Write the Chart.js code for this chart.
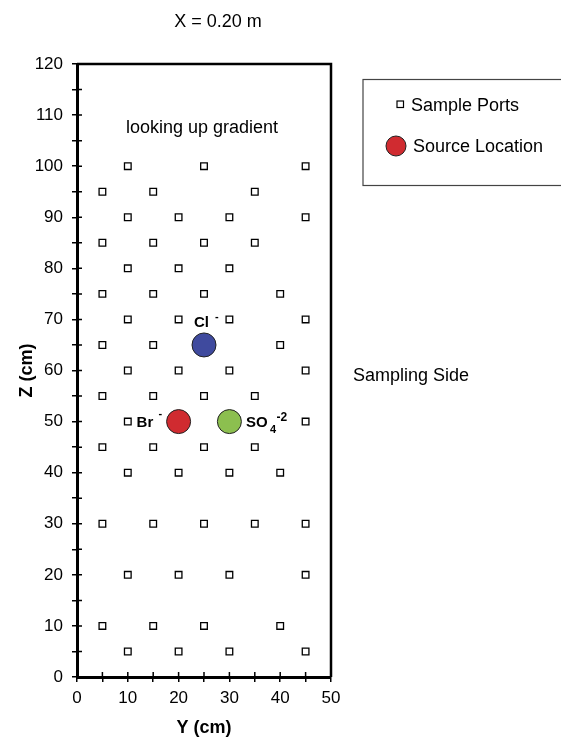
<!DOCTYPE html>
<html>
<head>
<meta charset="utf-8">
<script src="https://cdn.jsdelivr.net/npm/chart.js@4.4.0/dist/chart.umd.min.js"></script>
<style>
  html, body { margin: 0; padding: 0; background: #fff; }
  #wrap { width: 561px; height: 739px; }
</style>
</head>
<body>
<div id="wrap"><canvas id="c" width="561" height="739"></canvas></div>
<script>
// ---- Data ----
const chartTitle = "X = 0.20 m";
const xAxisTitle = "Y (cm)";
const yAxisTitle = "Z (cm)";
const xTickValues = [0, 10, 20, 30, 40, 50];
const yTickValues = [0, 10, 20, 30, 40, 50, 60, 70, 80, 90, 100, 110, 120];

// Sample ports (Y, Z) in cm
const portY = [
  10, 25, 45,
  5, 15, 35,
  10, 20, 30, 45,
  5, 15, 25, 35,
  10, 20, 30,
  5, 15, 25, 40,
  10, 20, 30, 45,
  5, 15, 40,
  10, 20, 30, 45,
  5, 15, 25, 35,
  10, 45,
  5, 15, 25, 35,
  10, 20, 30, 40,
  5, 15, 25, 35, 45,
  10, 20, 30, 45,
  5, 15, 25, 40,
  10, 20, 30, 45
];
const portZ = [
  100, 100, 100,
  95, 95, 95,
  90, 90, 90, 90,
  85, 85, 85, 85,
  80, 80, 80,
  75, 75, 75, 75,
  70, 70, 70, 70,
  65, 65, 65,
  60, 60, 60, 60,
  55, 55, 55, 55,
  50, 50,
  45, 45, 45, 45,
  40, 40, 40, 40,
  30, 30, 30, 30, 30,
  20, 20, 20, 20,
  10, 10, 10, 10,
  5, 5, 5, 5
];

// Source locations
const sourceNames = ["Cl", "Br", "SO4"];
const sourceY = [25, 20, 30];
const sourceZ = [65, 50, 50];

const legendLabels = ["Sample Ports", "Source Location"];
const annotationTexts = ["looking up gradient", "Sampling Side"];

// ---- Styles ----
const FONT = "'Liberation Sans', Arial, Helvetica, sans-serif";
const sourceColors = ["#3F4A9E", "#D02B30", "#8CBF4F"];

const portData = portY.map((y, i) => ({ x: y, y: portZ[i] }));
const sourceData = sourceY.map((y, i) => ({ x: y, y: sourceZ[i] }));

const decorPlugin = {
  id: 'decor',
  afterDraw(chart) {
    const ctx = chart.ctx;
    const xs = chart.scales.x, ys = chart.scales.y;
    const a = chart.chartArea;
    ctx.save();
    // top & right border
    ctx.strokeStyle = '#000';
    ctx.lineWidth = 2.5;
    ctx.beginPath();
    ctx.moveTo(a.left, a.top);
    ctx.lineTo(a.right, a.top);
    ctx.lineTo(a.right, a.bottom);
    ctx.stroke();
    // inner half of tick marks
    ctx.lineWidth = 1.5;
    ctx.beginPath();
    for (let v = 5; v < 50; v += 5) {
      const px = xs.getPixelForValue(v);
      ctx.moveTo(px, a.bottom);
      ctx.lineTo(px, a.bottom - 5);
    }
    for (let v = 5; v < 120; v += 5) {
      const py = ys.getPixelForValue(v);
      ctx.moveTo(a.left, py);
      ctx.lineTo(a.left + 5, py);
    }
    ctx.stroke();

    ctx.fillStyle = '#000';
    // title
    ctx.font = `18px ${FONT}`;
    ctx.textAlign = 'center';
    ctx.textBaseline = 'alphabetic';
    ctx.fillText(chartTitle, 218, 27);

    // annotations
    ctx.textAlign = 'left';
    ctx.font = `18px ${FONT}`;
    ctx.fillText(annotationTexts[0], 126, 133);
    ctx.fillText(annotationTexts[1], 353, 381);

    // ion labels
    const bold = (s) => `bold ${s}px ${FONT}`;
    // Cl-
    let cx = xs.getPixelForValue(sourceY[0]), cy = ys.getPixelForValue(sourceZ[0]);
    ctx.font = bold(15);
    ctx.fillText(sourceNames[0], cx - 10, cy - 18);
    ctx.font = bold(11);
    ctx.fillText('-', cx + 11, cy - 24.5);
    // Br-
    cx = xs.getPixelForValue(sourceY[1]); cy = ys.getPixelForValue(sourceZ[1]);
    ctx.font = bold(15);
    ctx.fillText('Br', cx - 42, cy + 5);
    ctx.font = bold(11);
    ctx.fillText('-', cx - 20, cy - 5);
    // SO4-2
    cx = xs.getPixelForValue(sourceY[2]); cy = ys.getPixelForValue(sourceZ[2]);
    ctx.font = bold(15);
    ctx.fillText('SO', cx + 16.5, cy + 5);
    ctx.font = bold(11);
    ctx.fillText('4', cx + 40.5, cy + 11);
    ctx.font = bold(12);
    ctx.fillText('-2', cx + 47, cy - 1);

    // legend box
    ctx.strokeStyle = '#444';
    ctx.lineWidth = 1.2;
    ctx.strokeRect(363, 79.5, 260, 106);
    // sample port marker
    ctx.fillStyle = '#fff';
    ctx.fillRect(397, 101, 6.5, 6.5);
    ctx.strokeStyle = '#000';
    ctx.lineWidth = 1.2;
    ctx.strokeRect(397, 101, 6.5, 6.5);
    // source marker
    ctx.beginPath();
    ctx.arc(396, 146, 10, 0, Math.PI * 2);
    ctx.fillStyle = sourceColors[1];
    ctx.fill();
    ctx.strokeStyle = '#222';
    ctx.lineWidth = 1;
    ctx.stroke();
    ctx.fillStyle = '#000';
    ctx.font = `18px ${FONT}`;
    ctx.fillText(legendLabels[0], 411, 110.5);
    ctx.fillText(legendLabels[1], 413, 152);
    ctx.restore();
  }
};

const tickFont = { family: FONT, size: 17 };
const titleFont = { family: FONT, size: 18, weight: 'bold' };

new Chart(document.getElementById('c'), {
  type: 'scatter',
  data: {
    datasets: [
      {
        label: legendLabels[0],
        data: portData,
        pointStyle: 'rect',
        pointRadius: 4.7,
        pointBackgroundColor: '#fff',
        pointBorderColor: '#000',
        pointBorderWidth: 1.3
      },
      {
        label: legendLabels[1],
        data: sourceData,
        pointStyle: 'circle',
        pointRadius: 12,
        pointBackgroundColor: sourceColors,
        pointBorderColor: '#222',
        pointBorderWidth: 1
      }
    ]
  },
  options: {
    responsive: false,
    animation: false,
    devicePixelRatio: 1,
    layout: { padding: { left: 0, top: 64, right: 230, bottom: 0 } },
    plugins: {
      legend: { display: false },
      tooltip: { enabled: false },
      title: { display: false }
    },
    scales: {
      x: {
        type: 'linear',
        min: 0, max: 50,
        afterFit(s) { s.height = 62; },
        afterBuildTicks(s) {
          const t = [];
          for (let v = 0; v <= 50; v += 5) t.push({ value: v });
          s.ticks = t;
        },
        ticks: {
          autoSkip: false, maxRotation: 0, padding: 6,
          color: '#000', font: tickFont,
          callback: (v) => xTickValues.includes(v) ? String(v) : ''
        },
        grid: { drawOnChartArea: false, drawTicks: true, tickLength: 5, color: '#000', lineWidth: 1.5 },
        border: { display: true, color: '#000', width: 3 },
        title: { display: true, text: xAxisTitle, color: '#000', font: titleFont, padding: { top: 0, bottom: 0 } }
      },
      y: {
        type: 'linear',
        min: 0, max: 120,
        afterFit(s) { s.width = 77; },
        afterBuildTicks(s) {
          const t = [];
          for (let v = 0; v <= 120; v += 5) t.push({ value: v });
          s.ticks = t;
        },
        ticks: {
          autoSkip: false, padding: 9,
          color: '#000', font: tickFont,
          callback: (v) => yTickValues.includes(v) ? String(v) : ''
        },
        grid: { drawOnChartArea: false, drawTicks: true, tickLength: 5, color: '#000', lineWidth: 1.5 },
        border: { display: true, color: '#000', width: 3 },
        title: { display: true, text: yAxisTitle, color: '#000', font: titleFont, padding: { top: 16, bottom: 0 } }
      }
    }
  },
  plugins: [decorPlugin]
});
</script>
</body>
</html>
